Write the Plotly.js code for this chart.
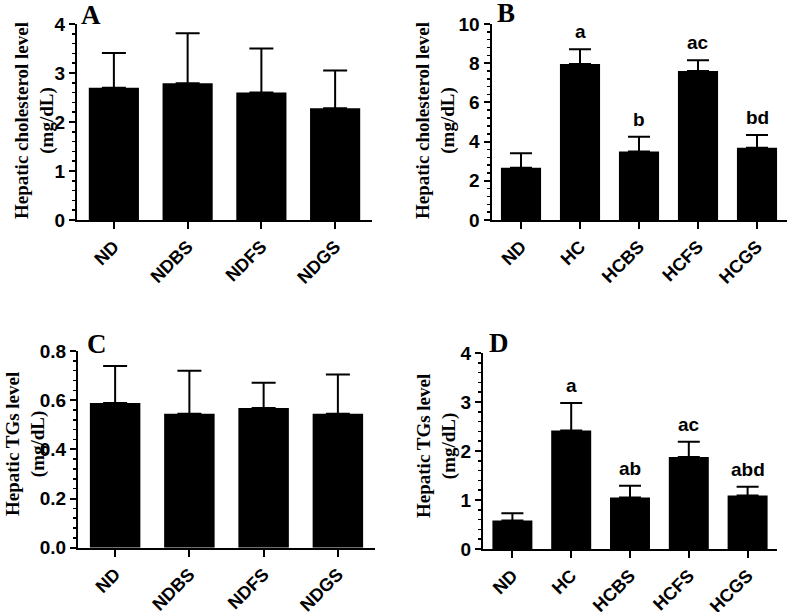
<!DOCTYPE html>
<html>
<head>
<meta charset="utf-8">
<script src="https://cdn.plot.ly/plotly-3.0.1.min.js"></script>
<style>html,body{margin:0;padding:0;background:#fff;}#chart{width:787px;height:612px;}</style>
</head>
<body>
<div id="chart"></div>
<script>
// ---- data ----
const catsA = ['ND', 'NDBS', 'NDFS', 'NDGS'];
const cholA = [2.70, 2.79, 2.60, 2.28];
const cholAErr = [0.71, 1.02, 0.90, 0.77];

const catsB = ['ND', 'HC', 'HCBS', 'HCFS', 'HCGS'];
const cholB = [2.67, 7.96, 3.49, 7.60, 3.69];
const cholBErr = [0.73, 0.75, 0.76, 0.55, 0.65];
const sigB = ['', 'a', 'b', 'ac', 'bd'];

const catsC = ['ND', 'NDBS', 'NDFS', 'NDGS'];
const tgC = [0.589, 0.545, 0.568, 0.545];
const tgCErr = [0.150, 0.175, 0.103, 0.159];

const catsD = ['ND', 'HC', 'HCBS', 'HCFS', 'HCGS'];
const tgD = [0.58, 2.42, 1.05, 1.88, 1.09];
const tgDErr = [0.15, 0.56, 0.24, 0.31, 0.18];
const sigD = ['', 'a', 'ab', 'ac', 'abd'];

const yTitleChol = 'Hepatic cholesterol level<br>(mg/dL)';
const yTitleTG = 'Hepatic TGs level<br>(mg/dL)';

// ---- styling ----
const W = 787, H = 612;
const sans = 'Liberation Sans, Arial, sans-serif';
const serif = 'Liberation Serif, Times New Roman, serif';

function barTrace(x, y, err, xa, ya, capw) {
  return {
    type: 'bar', x: x, y: y, xaxis: xa, yaxis: ya,
    width: 0.68,
    marker: {color: '#000', line: {width: 0}},
    error_y: {type: 'data', array: err, arrayminus: err.map(() => 0), symmetric: false,
              color: '#000', thickness: 2, width: capw},
    hoverinfo: 'skip', showlegend: false
  };
}

function xAxis(dom, n, anchor) {
  return {
    domain: dom, anchor: anchor, type: 'category', range: [-0.5, n - 0.5],
    showline: true, linecolor: '#000', linewidth: 2, showgrid: false, zeroline: false,
    ticks: 'outside', ticklen: 7, tickwidth: 2, tickcolor: '#000',
    tickangle: -45, tickfont: {family: sans, size: 18, color: '#000', weight: 'bold'},
    fixedrange: true
  };
}

function yAxis(dom, range, dtick, minorDtick, fmt, anchor) {
  return {
    domain: dom, anchor: anchor, range: range,
    showline: true, linecolor: '#000', linewidth: 2, showgrid: false, zeroline: false,
    ticks: 'outside', ticklen: 6, tickwidth: 2, tickcolor: '#000', dtick: dtick, tick0: 0,
    tickformat: fmt,
    tickfont: {family: sans, size: 19, color: '#000', weight: 'bold'},
    minor: {ticks: 'outside', ticklen: 3, tickwidth: 1.5, tickcolor: '#000', dtick: minorDtick, showgrid: false},
    fixedrange: true
  };
}

const px = v => v / W;
const py = v => 1 - v / H;

const data = [
  barTrace(catsA, cholA, cholAErr, 'x', 'y', 12),
  barTrace(catsB, cholB, cholBErr, 'x2', 'y2', 11),
  barTrace(catsC, tgC, tgCErr, 'x3', 'y3', 12),
  barTrace(catsD, tgD, tgDErr, 'x4', 'y4', 11)
];

const annotations = [];
function sig(cats, vals, errs, labels, xr, yr) {
  labels.forEach((t, i) => {
    if (!t) return;
    annotations.push({
      xref: xr, yref: yr, x: cats[i], y: vals[i] + errs[i], text: t,
      showarrow: false, yanchor: 'bottom', xanchor: 'center', yshift: 5,
      font: {family: sans, size: 19, color: '#000', weight: 'bold'}
    });
  });
}
sig(catsB, cholB, cholBErr, sigB, 'x2', 'y2');
sig(catsD, tgD, tgDErr, sigD, 'x4', 'y4');

function yTitle(text, x, y) {
  annotations.push({
    xref: 'paper', yref: 'paper', x: px(x), y: py(y), text: text, textangle: -90,
    showarrow: false, xanchor: 'center', yanchor: 'middle', align: 'center',
    font: {family: serif, size: 19, color: '#000', weight: 'bold'}
  });
}
yTitle(yTitleChol, 35, 121);
yTitle(yTitleChol, 436, 121);
yTitle(yTitleTG, 25, 444);
yTitle(yTitleTG, 436, 446);

function letter(t, x, y) {
  annotations.push({
    xref: 'paper', yref: 'paper', x: px(x), y: py(y), text: t,
    showarrow: false, xanchor: 'center', yanchor: 'middle',
    font: {family: serif, size: 27, color: '#000', weight: 'bold'}
  });
}
letter('A', 91, 15);
letter('B', 506, 13);
letter('C', 97, 344);
letter('D', 499, 343);

const layout = {
  width: W, height: H,
  margin: {l: 0, r: 0, t: 0, b: 0},
  paper_bgcolor: '#fff', plot_bgcolor: 'rgba(0,0,0,0)',
  bargap: 0.3,
  showlegend: false,
  xaxis: xAxis([px(77), px(372)], catsA.length, 'y'),
  yaxis: yAxis([py(220), py(24)], [0, 4], 1, 0.2, 'd', 'x'),
  xaxis2: xAxis([px(491.5), px(786.5)], catsB.length, 'y2'),
  yaxis2: yAxis([py(220), py(24)], [0, 10], 2, 0.4, 'd', 'x2'),
  xaxis3: xAxis([px(78), px(375)], catsC.length, 'y3'),
  yaxis3: yAxis([py(547.7), py(351)], [0, 0.8], 0.2, 0.04, '.1f', 'x3'),
  xaxis4: xAxis([px(483), px(777)], catsD.length, 'y4'),
  yaxis4: yAxis([py(549), py(353)], [0, 4], 1, 0.2, 'd', 'x4'),
  annotations: annotations
};

Plotly.newPlot('chart', data, layout, {staticPlot: true, displayModeBar: false});
</script>
</body>
</html>
